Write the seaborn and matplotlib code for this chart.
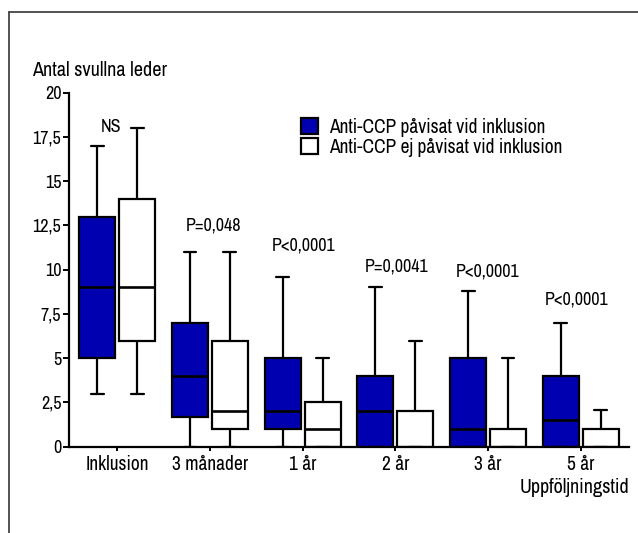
import numpy as np
import pandas as pd
import matplotlib
matplotlib.use("Agg")
import matplotlib.pyplot as plt
from matplotlib import font_manager
import seaborn as sns
from matplotlib.lines import Line2D

# ── DATA (five-number summaries) ──────────────────────────────────────────────
timepoints = ["Inklusion", "3 månader", "1 år", "2 år", "3 år", "5 år"]
groups = ["Anti-CCP påvisat vid inklusion", "Anti-CCP ej påvisat vid inklusion"]

pos_min = [3, 0, 0, 0, 0, 0]
pos_q1 = [5, 1.7, 1, 0, 0, 0]
pos_med = [9, 4, 2, 2, 1, 1.5]
pos_q3 = [13, 7, 5, 4, 5, 4]
pos_max = [17, 11, 9.6, 9, 8.8, 7]

neg_min = [3, 0, 0, 0, 0, 0]
neg_q1 = [6, 1, 0, 0, 0, 0]
neg_med = [9, 2, 1, 0, 0, 0]
neg_q3 = [14, 6, 2.5, 2, 1, 1]
neg_max = [18, 11, 5, 6, 5, 2.1]

p_labels = ["NS", "P=0,048", "P<0,0001", "P=0,0041", "P<0,0001", "P<0,0001"]
p_y = [18.05, 12.47, 11.35, 10.2, 9.9, 8.29]

y_ticks = [0, 2.5, 5, 7.5, 10, 12.5, 15, 17.5, 20]

# long table: the five summary values per box give exact quartiles
rows = []
for i, t in enumerate(timepoints):
    for v in (pos_min[i], pos_q1[i], pos_med[i], pos_q3[i], pos_max[i]):
        rows.append((t, groups[0], v))
    for v in (neg_min[i], neg_q1[i], neg_med[i], neg_q3[i], neg_max[i]):
        rows.append((t, groups[1], v))
df = pd.DataFrame(rows, columns=["tid", "grupp", "leder"])

# ── STYLE ─────────────────────────────────────────────────────────────────────
sns.set_style("ticks")

# the original uses a condensed face; pick the narrowest one that is installed
names = {f.name for f in font_manager.fontManager.ttflist}
narrow = [n for n in names if "Narrow" in n or "Condensed" in n]
family = (["Liberation Sans Narrow"] if "Liberation Sans Narrow" in names
          else sorted(narrow)[:1])
plt.rcParams["font.family"] = family + ["DejaVu Sans"]
plt.rcParams["font.size"] = 14
plt.rcParams["text.color"] = "black"
plt.rcParams["xtick.color"] = "black"
plt.rcParams["ytick.color"] = "black"

BLUE = "#0000B0"
LW = 1.6

fig = plt.figure(figsize=(6.38, 5.33), dpi=100)
ax = fig.add_axes([69 / 638, 1 - 446.7 / 533, 560 / 638, 354 / 533])

sns.boxplot(data=df, x="tid", y="leder", hue="grupp", order=timepoints,
            hue_order=groups, palette=[BLUE, "white"], saturation=1,
            whis=(0, 100), width=0.86, gap=0.1, linecolor="black",
            linewidth=LW, capwidths=0.14, showfliers=False, ax=ax,
            medianprops=dict(color="black", linewidth=LW + 0.3))

# ── AXES ──────────────────────────────────────────────────────────────────────
ax.set_xlim(-0.52, 5.52)
ax.set_ylim(0, 20)
ax.set_yticks(y_ticks)
ax.set_yticklabels([f"{v:g}".replace(".", ",") for v in y_ticks])
ax.set_xlabel("")
ax.set_ylabel("")
sns.despine(ax=ax)
for s in ("left", "bottom"):
    ax.spines[s].set_linewidth(1.6)
    ax.spines[s].set_color("black")
ax.tick_params(axis="y", width=1.4, length=4, labelsize=13, pad=1.5)
ax.tick_params(axis="x", width=1.4, length=3, labelsize=14, pad=3)

# p-values above each pair (small horizontal nudges as in the original)
label_dx = [-0.065, 0.04, 0.01, 0.01, 0.0, -0.04]
for i, (lab, yv) in enumerate(zip(p_labels, p_y)):
    ax.text(i + label_dx[i], yv, lab, ha="center", va="center", fontsize=13)

ax.text(1.0, -0.115, "Uppföljningstid", transform=ax.transAxes,
        ha="right", va="center", fontsize=14.5)
fig.text(32 / 638, 1 - 70 / 533, "Antal svullna leder", ha="left",
         va="center", fontsize=14.5)

sns.move_legend(ax, "upper left", bbox_to_anchor=(291 / 638, 1 - 108 / 533),
                bbox_transform=fig.transFigure, frameon=False, title=None,
                borderpad=0, handlelength=0.88, handleheight=0.93,
                handletextpad=0.57, labelspacing=0.05, fontsize=14)
for h in ax.get_legend().get_patches():
    h.set_edgecolor("black")
    h.set_linewidth(LW)

# outer frame (left and top only)
fig.add_artist(Line2D([9 / 638, 9 / 638], [0, 1 - 12 / 533],
                      transform=fig.transFigure, color="#444444", lw=1.3))
fig.add_artist(Line2D([9 / 638, 1], [1 - 12 / 533, 1 - 12 / 533],
                      transform=fig.transFigure, color="#444444", lw=1.3))

fig.savefig("out.png", dpi=100)
